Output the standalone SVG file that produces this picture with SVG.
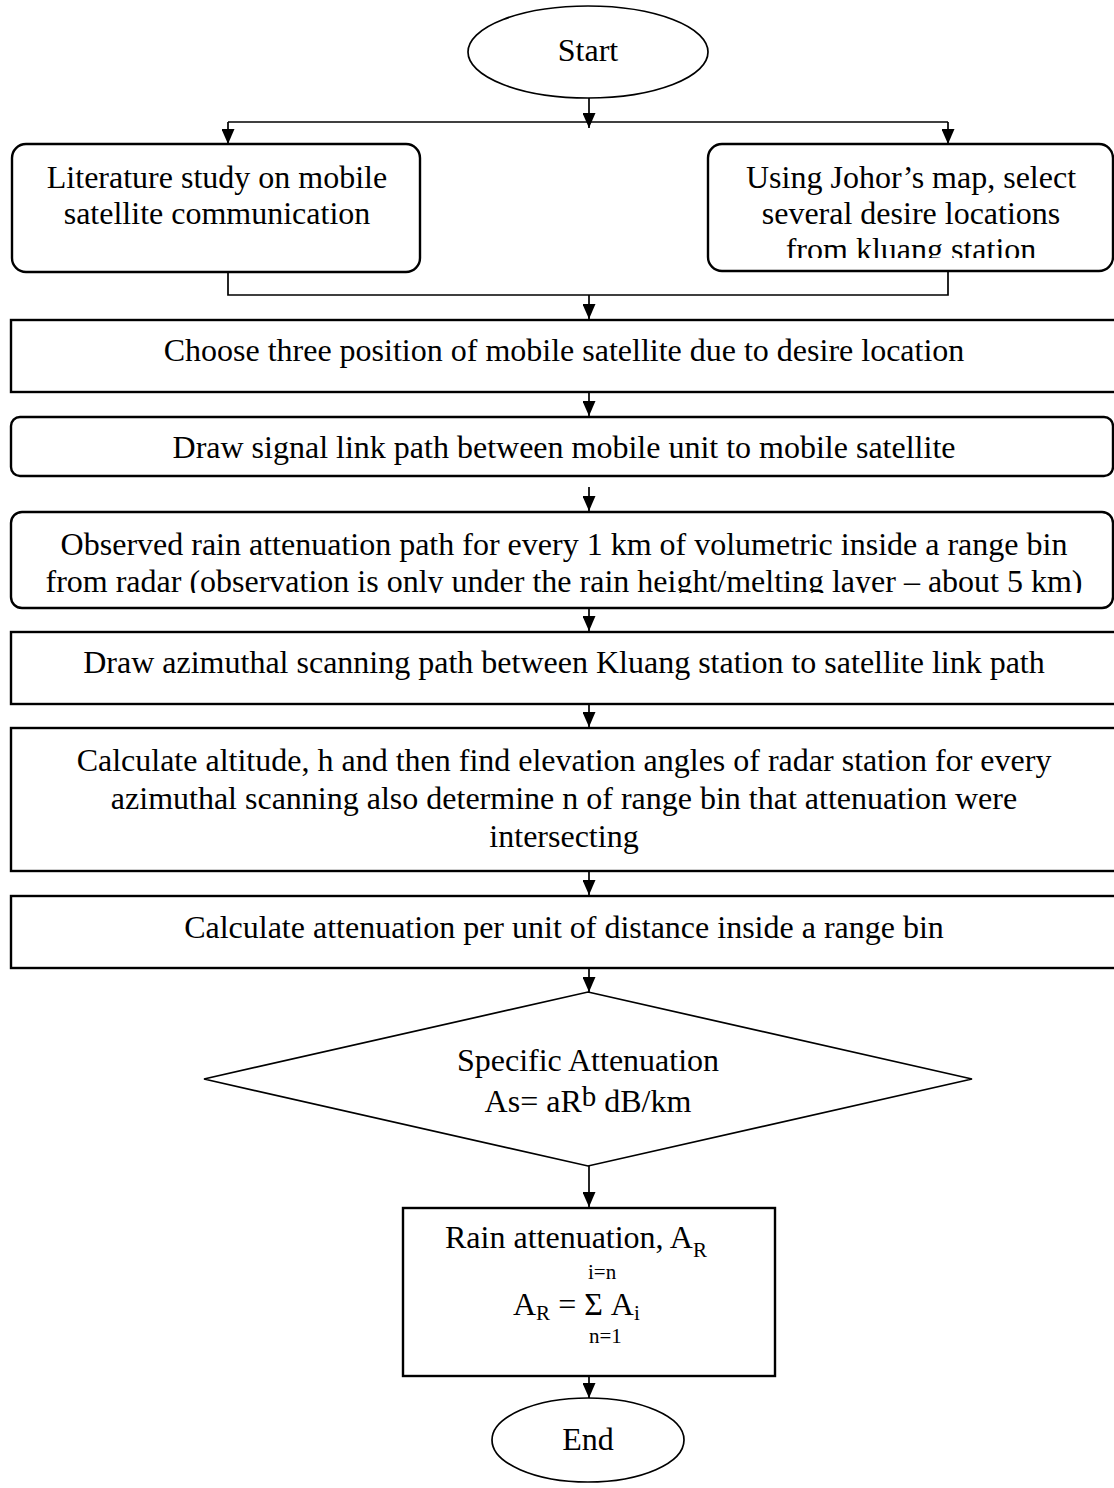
<svg xmlns="http://www.w3.org/2000/svg" width="1114" height="1488" viewBox="0 0 1114 1488">
  <style>
    .box { fill: #ffffff; stroke: #000000; stroke-width: 2.4; }
    .term { fill: #ffffff; stroke: #000000; stroke-width: 1.7; }
    .conn { fill: none; stroke: #000000; stroke-width: 1.7; }
    .t { font-family: "Liberation Serif", "Times New Roman", serif; font-size: 32px; fill: #000000; text-anchor: middle; }
    .s { font-family: "Liberation Serif", "Times New Roman", serif; font-size: 21px; fill: #000000; }
    .l { font-family: "Liberation Serif", "Times New Roman", serif; font-size: 32px; fill: #000000; }
  </style>
  <defs>
    <marker id="arr" markerWidth="15" markerHeight="13" refX="15" refY="6.5" orient="auto" markerUnits="userSpaceOnUse" viewBox="0 0 15 13">
      <path d="M0,0 L15,6.5 L0,13 Z" fill="#000000"/>
    </marker>
    <clipPath id="clipJ"><rect x="700" y="140" width="420" height="118"/></clipPath>
    <clipPath id="clipO"><rect x="0" y="510" width="1114" height="83"/></clipPath>
  </defs>
  <rect width="1114" height="1488" fill="#ffffff"/>

  <g id="connectors">
    <line class="conn" x1="589" y1="96" x2="589" y2="128" marker-end="url(#arr)"/>
    <line class="conn" x1="228" y1="122" x2="948" y2="122"/>
    <line class="conn" x1="228" y1="122" x2="228" y2="144" marker-end="url(#arr)"/>
    <line class="conn" x1="948" y1="122" x2="948" y2="144" marker-end="url(#arr)"/>
    <polyline class="conn" points="228,272 228,295 948,295 948,272"/>
    <line class="conn" x1="589" y1="295" x2="589" y2="319" marker-end="url(#arr)"/>
    <line class="conn" x1="589" y1="392" x2="589" y2="416" marker-end="url(#arr)"/>
    <line class="conn" x1="589" y1="487" x2="589" y2="511" marker-end="url(#arr)"/>
    <line class="conn" x1="589" y1="608" x2="589" y2="631" marker-end="url(#arr)"/>
    <line class="conn" x1="589" y1="704" x2="589" y2="727" marker-end="url(#arr)"/>
    <line class="conn" x1="589" y1="871" x2="589" y2="895" marker-end="url(#arr)"/>
    <line class="conn" x1="589" y1="968" x2="589" y2="992" marker-end="url(#arr)"/>
    <line class="conn" x1="589" y1="1160" x2="589" y2="1207" marker-end="url(#arr)"/>
    <line class="conn" x1="589" y1="1376" x2="589" y2="1398" marker-end="url(#arr)"/>
  </g>

  <g id="start">
    <ellipse class="term" cx="588" cy="52" rx="120" ry="46"/>
    <text class="t" x="588" y="61">Start</text>
  </g>

  <g id="literature">
    <rect class="box" x="12" y="144" width="408" height="128" rx="14" ry="14"/>
    <text class="t" x="217" y="188">Literature study on mobile</text>
    <text class="t" x="217" y="224">satellite communication</text>
  </g>

  <g id="johor">
    <rect class="box" x="708" y="144" width="405" height="127" rx="14" ry="14"/>
    <g clip-path="url(#clipJ)">
      <text class="t" x="911" y="188">Using Johor’s map, select</text>
      <text class="t" x="911" y="224">several desire locations</text>
      <text class="t" x="911" y="260">from kluang station</text>
    </g>
  </g>

  <g id="choose">
    <rect class="box" x="11" y="320" width="1106" height="72"/>
    <text class="t" x="564" y="361">Choose three position of mobile satellite due to desire location</text>
  </g>

  <g id="draw-signal">
    <rect class="box" x="11" y="417" width="1102" height="59" rx="9" ry="9"/>
    <text class="t" x="564" y="458">Draw signal link path between mobile unit to mobile satellite</text>
  </g>

  <g id="observed">
    <rect class="box" x="11" y="512" width="1102" height="96" rx="11" ry="11"/>
    <g clip-path="url(#clipO)">
      <text class="t" x="564" y="555">Observed rain attenuation path for every 1 km of volumetric inside a range bin</text>
      <text class="t" x="564" y="592">from radar (observation is only under the rain height/melting layer – about 5 km)</text>
    </g>
  </g>

  <g id="draw-azimuthal">
    <rect class="box" x="11" y="632" width="1106" height="72"/>
    <text class="t" x="564" y="673">Draw azimuthal scanning path between Kluang station to satellite link path</text>
  </g>

  <g id="calc-altitude">
    <rect class="box" x="11" y="728" width="1106" height="143"/>
    <text class="t" x="564" y="771">Calculate altitude, h and then find elevation angles of radar station for every</text>
    <text class="t" x="564" y="809">azimuthal scanning also determine n of range bin that attenuation were</text>
    <text class="t" x="564" y="847">intersecting</text>
  </g>

  <g id="calc-attenuation">
    <rect class="box" x="11" y="896" width="1106" height="72"/>
    <text class="t" x="564" y="938">Calculate attenuation per unit of distance inside a range bin</text>
  </g>

  <g id="specific">
    <polygon class="term" points="588,992 972,1079 588,1166 204,1079"/>
    <text class="t" x="588" y="1071">Specific Attenuation</text>
    <text class="t" x="588" y="1112">As= aR<tspan font-size="29" dy="-6">b</tspan><tspan dy="6"> dB/km</tspan></text>
  </g>

  <g id="rain">
    <rect class="box" x="403" y="1208" width="372" height="168"/>
    <text class="l" x="445" y="1248">Rain attenuation, A<tspan font-size="21" dy="9">R</tspan></text>
    <text class="s" x="588" y="1279">i=n</text>
    <text class="l" x="513" y="1315">A<tspan font-size="21" dy="5">R</tspan><tspan dy="-5"> = Σ A</tspan><tspan font-size="21" dy="5">i</tspan></text>
    <text class="s" x="589" y="1343">n=1</text>
  </g>

  <g id="end">
    <ellipse class="term" cx="588" cy="1440" rx="96" ry="42"/>
    <text class="t" x="588" y="1450">End</text>
  </g>
</svg>
